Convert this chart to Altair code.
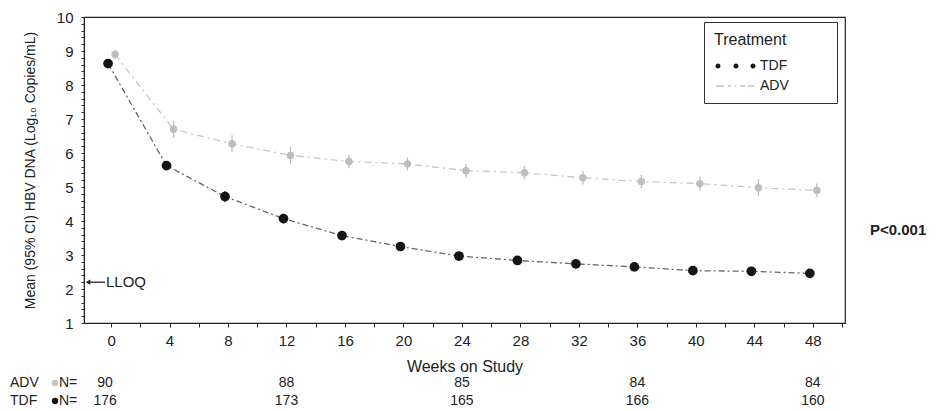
import altair as alt
import pandas as pd

# ---------------- data ----------------
weeks = [0, 4, 8, 12, 16, 20, 24, 28, 32, 36, 40, 44, 48]
tdf_mean = [8.63, 5.63, 4.72, 4.07, 3.57, 3.25, 2.97, 2.84, 2.74, 2.65, 2.54, 2.52, 2.46]
tdf_ci = [0.12, 0.10, 0.16, 0.14, 0.10, 0.10, 0.09, 0.08, 0.08, 0.08, 0.07, 0.07, 0.07]
adv_mean = [8.90, 6.70, 6.27, 5.93, 5.75, 5.68, 5.48, 5.42, 5.27, 5.16, 5.10, 4.98, 4.90]
adv_ci = [0.15, 0.25, 0.25, 0.25, 0.20, 0.20, 0.20, 0.20, 0.20, 0.20, 0.20, 0.25, 0.20]

n_weeks = [0, 12, 24, 36, 48]
adv_n = [90, 88, 85, 84, 84]
tdf_n = [176, 173, 165, 166, 160]

treatments = ["TDF", "ADV"]
lloq_value = [2.2]
p_text = ["P<0.001"]

x_tick_values = list(range(0, 51, 2))
y_tick_values = [round(1 + i * 0.2, 1) for i in range(46)]

# ---------------- tables ----------------
rows = []
for w, m, c in zip(weeks, tdf_mean, tdf_ci):
    rows.append(dict(week=w, trt="TDF", mean=m, lo=m - c, hi=m + c))
for w, m, c in zip(weeks, adv_mean, adv_ci):
    rows.append(dict(week=w, trt="ADV", mean=m, lo=m - c, hi=m + c))
df = pd.DataFrame(rows)
ndf = pd.DataFrame(dict(week=n_weeks, adv=adv_n, tdf=tdf_n))

FONT = "Liberation Sans Narrow, Liberation Sans, Arial"
FONT2 = "Liberation Sans, Arial"

xscale = alt.Scale(domain=[-1.85, 50.2], nice=False, zero=False)
yscale = alt.Scale(domain=[1, 10], nice=False, zero=False)

xaxis = alt.Axis(
    values=x_tick_values,
    labelExpr="datum.value % 4 == 0 ? datum.label : ''",
    title="Weeks on Study",
    titleFont=FONT, titleFontSize=16, titleFontWeight="normal", titleColor="#222",
    titlePadding=10,
    labelFont=FONT, labelFontSize=15, labelColor="#222", labelPadding=6,
    tickSize=4, tickColor="#222", domainColor="#222", grid=False,
)
yaxis = alt.Axis(
    values=y_tick_values,
    format=".0f",
    labelExpr="abs(datum.value - round(datum.value)) < 0.01 ? datum.label : ''",
    title="Mean (95% CI) HBV DNA (Log₁₀ Copies/mL)",
    titleFont=FONT2, titleFontSize=14, titleFontWeight="normal", titleColor="#222",
    titleX=-54, titleY=153, titleAngle=-90, titleAlign="center", titleBaseline="middle",
    labelFont=FONT, labelFontSize=15, labelColor="#222", labelPadding=8,
    tickSize=3, tickColor="#333", domainColor="#222", grid=False,
)


def X(field="week"):
    return alt.X(f"{field}:Q", scale=xscale, axis=xaxis)


def Y(field):
    return alt.Y(f"{field}:Q", scale=yscale, axis=yaxis)


adv = alt.Chart(df).transform_filter("datum.trt == 'ADV'")
tdf = alt.Chart(df).transform_filter("datum.trt == 'TDF'")

adv_line = adv.mark_line(color="#c6c6c6", strokeDash=[7, 4, 2, 4], strokeWidth=1.3, xOffset=4).encode(x=X(), y=Y("mean"))
adv_err = adv.mark_rule(color="#bdbdbd", strokeWidth=1.3, xOffset=4).encode(x=X(), y=Y("lo"), y2="hi")
adv_pts = adv.mark_point(filled=True, size=55, color="#bebebe", opacity=1, xOffset=4).encode(x=X(), y=Y("mean"))

tdf_line = tdf.mark_line(color="#666666", strokeDash=[6, 3, 2, 3], strokeWidth=1.3, xOffset=-3).encode(x=X(), y=Y("mean"))
tdf_err = tdf.mark_rule(color="#222", strokeWidth=1.3, xOffset=-3).encode(x=X(), y=Y("lo"), y2="hi")
tdf_pts = tdf.mark_point(filled=True, size=95, color="#151515", opacity=1, xOffset=-3).encode(x=X(), y=Y("mean"))


# ---------------- legend (real Vega legend with custom symbols) ----------------
def circ(cx, r):
    return f"M{cx - r},0 a{r},{r} 0 1,0 {2 * r},0 a{r},{r} 0 1,0 {-2 * r},0 Z"


# an invisible zero-length sub-path at the far right widens the legend box
spacer = " M21.2,0 L21.2,0"
tdf_sym = " ".join(circ(c, 0.5) for c in [-0.6, 3.0, 6.4]) + spacer
adv_sym = " ".join(
    f"M{a},-0.15 L{b},-0.15 L{b},0.15 L{a},0.15 Z"
    for a, b in [(-1.0, 0.6), (1.4, 2.0), (2.7, 3.1), (3.8, 4.8), (5.4, 6.6)]
) + spacer

leg = alt.Legend(
    orient="none", legendX=620, legendY=5,
    title="Treatment",
    titleFont=FONT2, titleFontSize=16, titleFontWeight="normal", titleColor="#222",
    titlePadding=11,
    labelFont=FONT2, labelFontSize=14, labelColor="#222",
    labelOffset=32,
    symbolSize=100, rowPadding=6,
    strokeColor="#333", fillColor="white", padding=10,
)
legend_layer = alt.Chart(df).transform_filter("false").mark_point(filled=True, opacity=1).encode(
    x=X(), y=Y("mean"),
    color=alt.Color("trt:N", scale=alt.Scale(domain=treatments, range=["#151515", "#c4c4c4"]), legend=leg),
    shape=alt.Shape("trt:N", scale=alt.Scale(domain=treatments, range=[tdf_sym, adv_sym]), legend=leg),
)

# ---------------- LLOQ annotation ----------------
ldf = pd.DataFrame(dict(y=lloq_value, label=["LLOQ"]))
lloq_rule = alt.Chart(ldf).mark_rule(color="#222", strokeWidth=1.3).encode(
    y=Y("y"), x=alt.value(3), x2=alt.value(21))
lloq_head = alt.Chart(ldf).mark_point(shape="triangle-left", filled=True, size=28, color="#222", opacity=1).encode(
    y=Y("y"), x=alt.value(4))
lloq_text = alt.Chart(ldf).mark_text(align="left", baseline="middle", font=FONT2, fontSize=15, color="#222").encode(
    y=Y("y"), x=alt.value(22), text="label:N")

# ---------------- P value ----------------
pdf = pd.DataFrame(dict(t=p_text))
p_label = alt.Chart(pdf).mark_text(align="left", baseline="middle", font=FONT2, fontSize=15,
                                   fontWeight="bold", color="#222").encode(
    x=alt.value(786), y=alt.value(213), text="t:N")

# ---------------- N at risk table ----------------
nt = alt.Chart(ndf)
tstyle = dict(baseline="middle", font=FONT2, fontSize=14, color="#222")
adv_nums = nt.transform_filter("datum.week > 0").mark_text(align="center", **tstyle).encode(
    x=X(), y=alt.value(366), text="adv:Q")
tdf_nums = nt.transform_filter("datum.week > 0").mark_text(align="center", **tstyle).encode(
    x=X(), y=alt.value(384), text="tdf:Q")
adv_n0 = nt.transform_filter("datum.week == 0").mark_text(align="center", dx=-6, **tstyle).encode(
    x=X(), y=alt.value(366), text="adv:Q")
tdf_n0 = nt.transform_filter("datum.week == 0").mark_text(align="center", dx=-6, **tstyle).encode(
    x=X(), y=alt.value(384), text="tdf:Q")

rl = pd.DataFrame(dict(name=["ADV", "TDF"], lab=["N=", "N="], ypix=[366, 384]))
row_names = alt.Chart(rl).mark_text(align="left", **tstyle).encode(
    x=alt.value(-74), y=alt.Y("ypix:Q", scale=None), text="name:N")
row_n = alt.Chart(rl).mark_text(align="left", **tstyle).encode(
    x=alt.value(-25), y=alt.Y("ypix:Q", scale=None), text="lab:N")
row_sym_adv = alt.Chart(rl).transform_filter("datum.name == 'ADV'").mark_point(
    filled=True, size=40, opacity=1, color="#c4c4c4").encode(x=alt.value(-29), y=alt.Y("ypix:Q", scale=None))
row_sym_tdf = alt.Chart(rl).transform_filter("datum.name == 'TDF'").mark_point(
    filled=True, size=40, opacity=1, color="#151515").encode(x=alt.value(-29), y=alt.Y("ypix:Q", scale=None))

chart = alt.layer(
    adv_line, adv_err, adv_pts,
    tdf_line, tdf_err, tdf_pts,
    legend_layer,
    lloq_rule, lloq_head, lloq_text,
    p_label,
    adv_nums, tdf_nums, adv_n0, tdf_n0,
    row_names, row_n, row_sym_adv, row_sym_tdf,
).properties(
    width=761, height=306,
    autosize=alt.AutoSizeParams(type="none"),
    padding={"left": 76, "top": 9, "right": 86, "bottom": 86},
    background="white",
).configure_view(stroke="#222", strokeWidth=1.2)

chart.save("out.html", embed_options={"renderer": "svg", "actions": False})
